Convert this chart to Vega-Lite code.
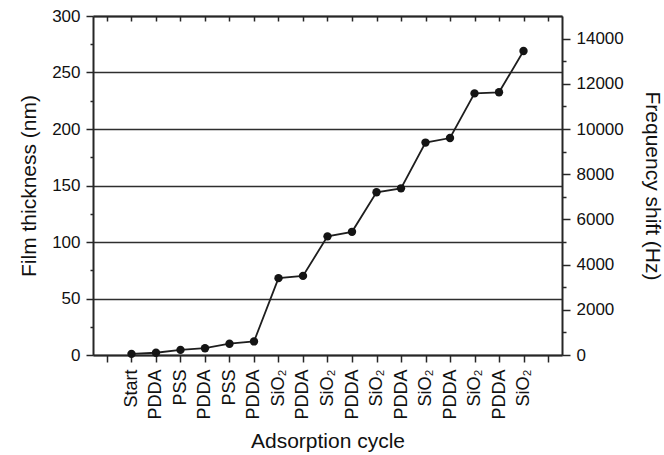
{
  "$schema": "https://vega.github.io/schema/vega-lite/v6.json",
  "width": 469,
  "height": 339,
  "autosize": "none",
  "padding": {"left": 93, "top": 16, "right": 102, "bottom": 100},
  "background": "white",
  "config": {
    "font": "Liberation Sans",
    "view": {"stroke": null},
    "axis": {
      "domainColor": "#262626",
      "domainWidth": 2,
      "tickColor": "#262626",
      "tickWidth": 1.5,
      "labelColor": "#111111",
      "titleColor": "#111111",
      "labelFont": "Liberation Sans",
      "titleFont": "Liberation Sans",
      "titleFontWeight": "normal",
      "labelOverlap": false
    }
  },
  "data": {
    "values": [
      {"step": 0, "cycle": "Start", "thickness": 1, "frequency": 50},
      {"step": 1, "cycle": "PDDA", "thickness": 2, "frequency": 100},
      {"step": 2, "cycle": "PSS", "thickness": 4.5, "frequency": 220},
      {"step": 3, "cycle": "PDDA", "thickness": 6, "frequency": 300},
      {"step": 4, "cycle": "PSS", "thickness": 10, "frequency": 500},
      {"step": 5, "cycle": "PDDA", "thickness": 12, "frequency": 600},
      {"step": 6, "cycle": "SiO₂", "thickness": 68, "frequency": 3400},
      {"step": 7, "cycle": "PDDA", "thickness": 70, "frequency": 3500},
      {"step": 8, "cycle": "SiO₂", "thickness": 105, "frequency": 5250},
      {"step": 9, "cycle": "PDDA", "thickness": 109, "frequency": 5450},
      {"step": 10, "cycle": "SiO₂", "thickness": 144, "frequency": 7200},
      {"step": 11, "cycle": "PDDA", "thickness": 147.5, "frequency": 7380},
      {"step": 12, "cycle": "SiO₂", "thickness": 188, "frequency": 9400},
      {"step": 13, "cycle": "PDDA", "thickness": 192, "frequency": 9600},
      {"step": 14, "cycle": "SiO₂", "thickness": 231.5, "frequency": 11580},
      {"step": 15, "cycle": "PDDA", "thickness": 232.5, "frequency": 11630},
      {"step": 16, "cycle": "SiO₂", "thickness": 269, "frequency": 13450}
    ]
  },
  "resolve": {
    "scale": {"x": "independent", "y": "independent"},
    "axis": {"x": "independent", "y": "independent"}
  },
  "layer": [
    {
      "mark": {
        "type": "line",
        "color": "#1e1e1e",
        "strokeWidth": 1.8,
        "point": {"filled": true, "size": 70, "color": "#141414", "opacity": 1}
      },
      "encoding": {
        "x": {
          "field": "step",
          "type": "quantitative",
          "scale": {"domain": [-1.571, 17.571], "nice": false, "zero": false},
          "axis": {
            "orient": "bottom",
            "values": [-1, 0, 1, 2, 3, 4, 5, 6, 7, 8, 9, 10, 11, 12, 13, 14, 15, 16, 17],
            "labelExpr": "datum.value >= 0 && datum.value <= 16 ? ['Start','PDDA','PSS','PDDA','PSS','PDDA','SiO₂','PDDA','SiO₂','PDDA','SiO₂','PDDA','SiO₂','PDDA','SiO₂','PDDA','SiO₂'][datum.value] : ''",
            "labelAngle": -90,
            "labelAlign": "right",
            "labelBaseline": "middle",
            "labelFontSize": 18,
            "labelPadding": 7,
            "labelFlush": false,
            "tickSize": 7,
            "grid": false,
            "title": "Adsorption cycle",
            "titleFontSize": 21,
            "titlePadding": 11
          }
        },
        "y": {
          "field": "thickness",
          "type": "quantitative",
          "scale": {"domain": [0, 300], "nice": false},
          "axis": {
            "orient": "left",
            "values": [0, 25, 50, 75, 100, 125, 150, 175, 200, 225, 250, 275, 300],
            "labelExpr": "datum.value % 50 === 0 ? datum.label : ''",
            "labelFontSize": 17,
            "labelPadding": 6,
            "tickSize": {"condition": {"test": "datum.value % 50 !== 0", "value": 3}, "value": 7},
            "grid": true,
            "gridColor": "#2e2e2e",
            "gridWidth": 1.5,
            "gridOpacity": {"condition": {"test": "datum.value % 50 !== 0", "value": 0}, "value": 1},
            "title": "Film thickness (nm)",
            "titleFontSize": 21,
            "titlePadding": 12
          }
        }
      }
    },
    {
      "mark": {"type": "point", "opacity": 0},
      "encoding": {
        "x": {
          "field": "step",
          "type": "quantitative",
          "scale": {"domain": [-1.571, 17.571], "nice": false, "zero": false},
          "axis": {
            "orient": "top",
            "values": [-1, 0, 1, 2, 3, 4, 5, 6, 7, 8, 9, 10, 11, 12, 13, 14, 15, 16, 17],
            "labels": false,
            "tickSize": -5,
            "grid": false,
            "title": null
          }
        },
        "y": {
          "field": "frequency",
          "type": "quantitative",
          "scale": {"domain": [0, 15000], "nice": false},
          "axis": {
            "orient": "right",
            "values": [0, 1000, 2000, 3000, 4000, 5000, 6000, 7000, 8000, 9000, 10000, 11000, 12000, 13000, 14000],
            "format": "d",
            "labelExpr": "datum.value % 2000 === 0 ? datum.label : ''",
            "labelFontSize": 17,
            "labelPadding": 6,
            "tickSize": {"condition": {"test": "datum.value % 2000 !== 0", "value": 4}, "value": 8},
            "grid": false,
            "title": "Frequency shift (Hz)",
            "titleFontSize": 21,
            "titlePadding": 18
          }
        }
      }
    }
  ]
}
